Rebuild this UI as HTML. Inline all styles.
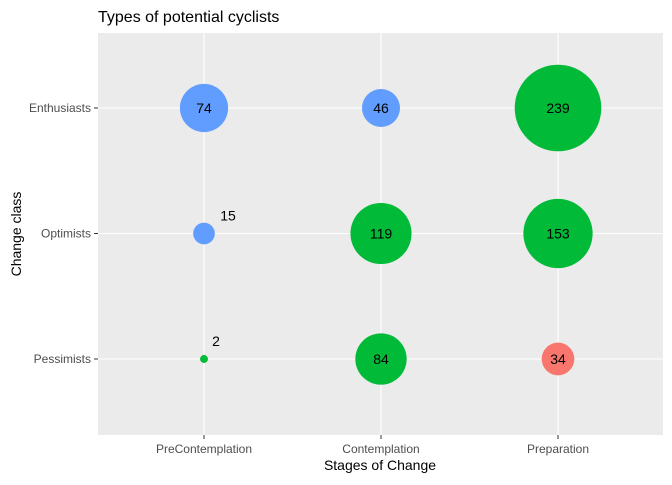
<!DOCTYPE html>
<html><head><meta charset="utf-8"><style>
body{margin:0;background:#fff;}
svg text{font-family:"Liberation Sans",Arial,sans-serif;}
</style></head><body>
<svg width="672" height="480" xmlns="http://www.w3.org/2000/svg">
<rect x="98" y="33" width="565" height="402" fill="#EBEBEB"/>
<g id="grid"></g>
<g id="marks"></g>
<g id="axes"></g>
<text x="98" y="22" font-size="16" fill="#000">Types of potential cyclists</text>
<text x="380" y="470" font-size="14" text-anchor="middle" fill="#000">Stages of Change</text>
<text x="21" y="234" font-size="14" text-anchor="middle" fill="#000" transform="rotate(-90 21 234)">Change class</text>
</svg>
<script>
const xCats = ["PreContemplation","Contemplation","Preparation"];
const yCats = ["Enthusiasts","Optimists","Pessimists"];
const ptX = ["PreContemplation","Contemplation","Preparation","PreContemplation","Contemplation","Preparation","PreContemplation","Contemplation","Preparation"];
const ptY = ["Enthusiasts","Enthusiasts","Enthusiasts","Optimists","Optimists","Optimists","Pessimists","Pessimists","Pessimists"];
const ptVal = [74,46,239,15,119,153,2,84,34];
const ptGroup = ["b","b","g","b","g","g","g","g","r"];
const colors = {b:"#619CFF",g:"#00BA38",r:"#F8766D"};
const NS="http://www.w3.org/2000/svg";
function xs(c){return 204+xCats.indexOf(c)*177;}
function ys(c){return 108+yCats.indexOf(c)*125.5;}
function rs(v){return 2.8*Math.sqrt(v);}
function mk(t,a,p){const e=document.createElementNS(NS,t);for(const k in a)e.setAttribute(k,a[k]);document.getElementById(p).appendChild(e);return e;}
xCats.forEach(c=>{
  const l=mk("line",{x1:xs(c),x2:xs(c),y1:33,y2:435,stroke:"#fff","stroke-width":1.1},"grid");
  
  
  mk("line",{x1:xs(c),x2:xs(c),y1:435,y2:439,stroke:"#333"},"axes");
  const t=mk("text",{x:xs(c),y:453,"font-size":12,"text-anchor":"middle",fill:"#4D4D4D"},"axes");
  t.textContent=c;
  
  
});
yCats.forEach(c=>{
  const l=mk("line",{x1:98,x2:663,y1:ys(c),y2:ys(c),stroke:"#fff","stroke-width":1.1},"grid");
  
  
  mk("line",{x1:94,x2:98,y1:ys(c),y2:ys(c),stroke:"#333"},"axes");
  const t=mk("text",{x:91,y:ys(c)+4,"font-size":12,"text-anchor":"end",fill:"#4D4D4D"},"axes");
  t.textContent=c;
  
  
});
ptVal.forEach((v,i)=>{
  const cx=xs(ptX[i]),cy=ys(ptY[i]),r=rs(v);
  const c=mk("circle",{cx:cx,cy:cy,r:r,fill:colors[ptGroup[i]]},"marks");
  
  
  const small=r<14;
  const t=mk("text",{x:small?cx+(v<10?12:24):cx,y:small?cy-13:cy+5,"font-size":14,"text-anchor":"middle",fill:"#000"},"marks");
  t.textContent=v;
  
  
});
</script>
</body></html>
